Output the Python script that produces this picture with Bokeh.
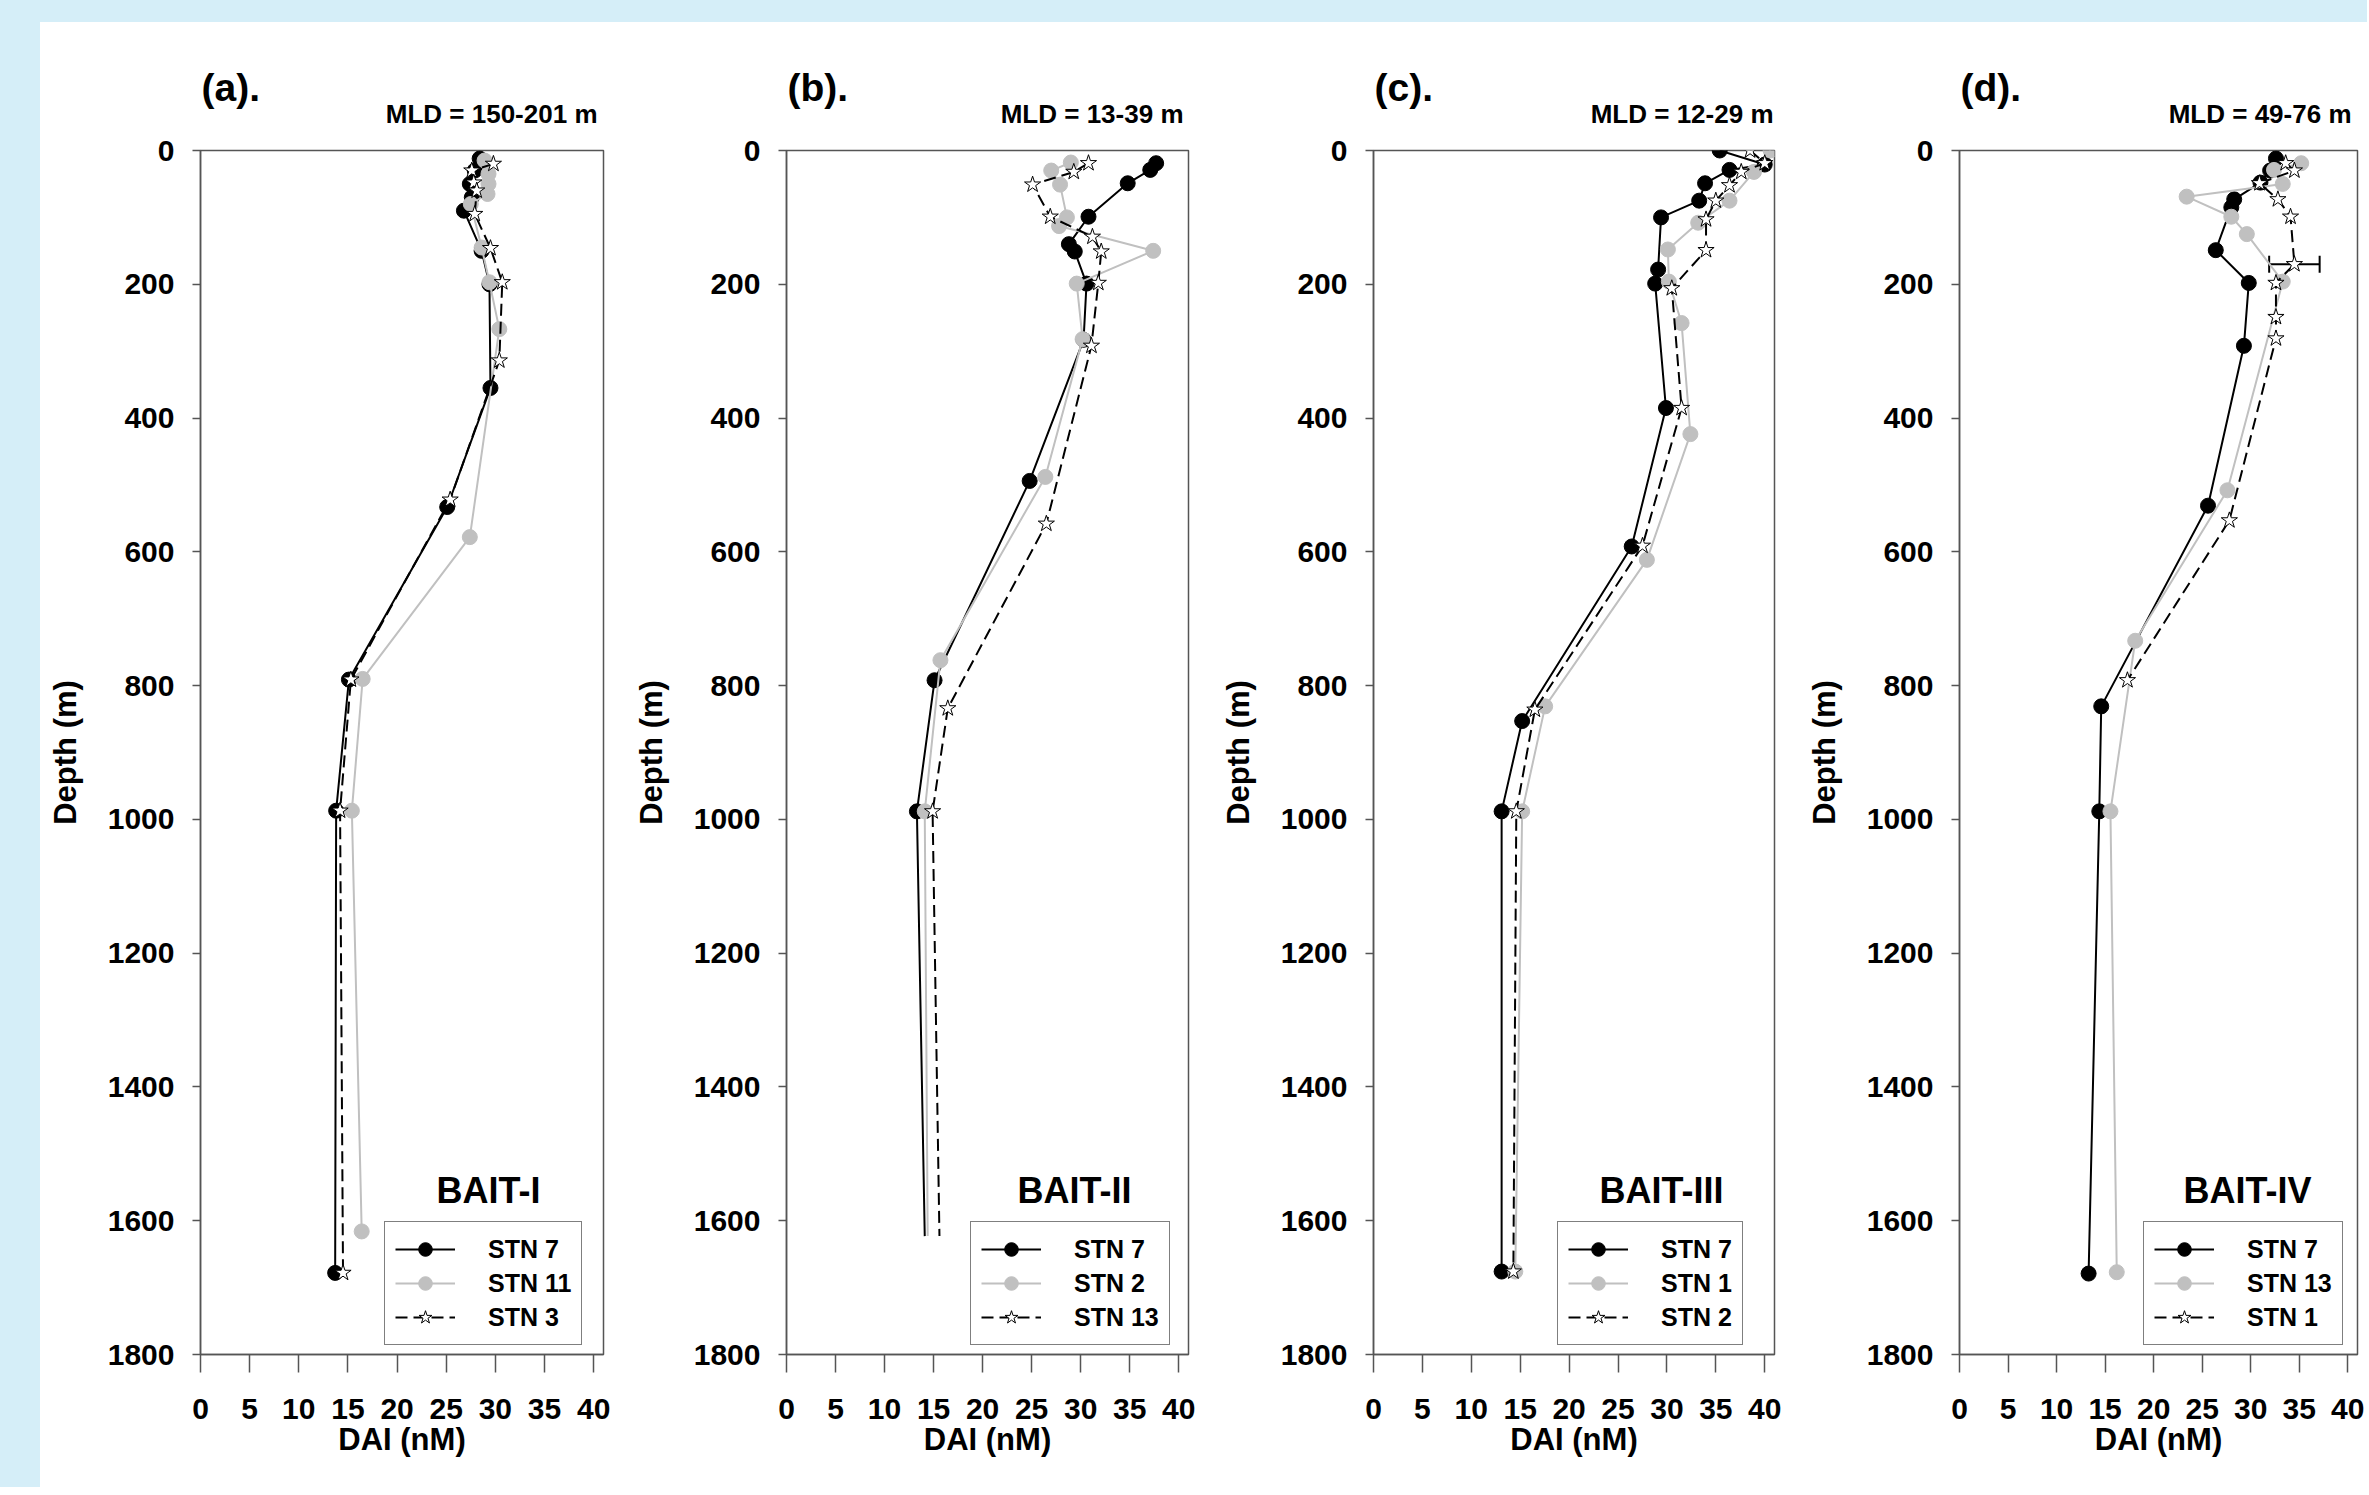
from bokeh.plotting import figure
from bokeh.models import (Range1d, FixedTicker, Legend, LegendItem, Label,
                          Whisker, ColumnDataSource, Spacer, TeeHead)
from bokeh.layouts import row, column
from bokeh.embed import file_html
from bokeh.resources import INLINE

FONT = "Liberation Sans"
BLACK = "#000000"
GRAY = "#c0c0c0"
FRAME = "#555555"
BG = "#d5eef8"

# ---------------- data ----------------
X_TICKS = [0, 5, 10, 15, 20, 25, 30, 35, 40]
Y_TICKS = [0, 200, 400, 600, 800, 1000, 1200, 1400, 1600, 1800]

# (a) BAIT-I
A_LABELS = ["STN 7", "STN 11", "STN 3"]
A_S1_DEPTH = [12, 30, 50, 70, 90, 150, 200, 355, 533, 791, 987, 1678]
A_S1_DAI = [28.4, 27.9, 27.4, 27.6, 26.8, 28.6, 29.4, 29.5, 25.1, 15.1, 13.8, 13.7]
A_S2_DEPTH = [15, 35, 50, 65, 80, 145, 197, 267, 578, 790, 987, 1616]
A_S2_DAI = [28.9, 29.3, 29.3, 29.2, 27.5, 28.6, 29.4, 30.4, 27.4, 16.5, 15.4, 16.4]
A_S3_DEPTH = [20, 30, 48, 60, 95, 146, 197, 314, 522, 791, 987, 1678]
A_S3_DAI = [29.8, 27.6, 27.8, 28.1, 27.9, 29.5, 30.7, 30.4, 25.4, 15.3, 14.2, 14.5]

# (b) BAIT-II
B_LABELS = ["STN 7", "STN 2", "STN 13"]
B_S1_DEPTH = [19, 29, 49, 99, 140, 151, 199, 283, 494, 792, 988, 1623]
B_S1_DAI = [37.7, 37.1, 34.8, 30.8, 28.8, 29.4, 30.6, 30.3, 24.8, 15.1, 13.3, 14.1]
B_S2_DEPTH = [18, 30, 51, 100, 113, 150, 199, 282, 488, 762, 988, 1623]
B_S2_DAI = [29.0, 27.0, 27.9, 28.6, 27.8, 37.4, 29.6, 30.2, 26.4, 15.7, 14.1, 14.4]
B_S3_DEPTH = [19, 32, 51, 99, 129, 151, 198, 292, 558, 834, 988, 1623]
B_S3_DAI = [30.8, 29.3, 25.1, 26.9, 31.2, 32.1, 31.8, 31.1, 26.5, 16.45, 14.9, 15.6]

# (c) BAIT-III
C_LABELS = ["STN 7", "STN 1", "STN 2"]
C_S1_DEPTH = [0, 21, 29, 49, 75, 100, 178, 199, 385, 592, 853, 988, 1676]
C_S1_DAI = [35.4, 40.0, 36.4, 33.9, 33.3, 29.4, 29.1, 28.8, 29.9, 26.4, 15.2, 13.1, 13.1]
C_S2_DEPTH = [0, 32, 75, 108, 148, 196, 258, 424, 612, 831, 988, 1676]
C_S2_DAI = [40.6, 38.9, 36.4, 33.2, 30.1, 30.2, 31.5, 32.4, 27.95, 17.55, 15.2, 14.5]
C_S3_DEPTH = [0, 19, 32, 52, 75, 103, 149, 206, 385, 591, 836, 988, 1676]
C_S3_DAI = [38.5, 40.0, 37.6, 36.4, 35.0, 34.0, 34.0, 30.5, 31.5, 27.5, 16.5, 14.6, 14.3]

# (d) BAIT-IV
D_LABELS = ["STN 7", "STN 13", "STN 1"]
D_S1_DEPTH = [12, 30, 48, 73, 85, 149, 198, 292, 531, 831, 988, 1679]
D_S1_DAI = [32.6, 32.0, 31.0, 28.3, 28.0, 26.4, 29.8, 29.3, 25.6, 14.6, 14.4, 13.3]
D_S2_DEPTH = [19, 29, 50, 69, 99, 125, 196, 508, 733, 988, 1677]
D_S2_DAI = [35.2, 32.4, 33.3, 23.4, 28.0, 29.6, 33.3, 27.6, 18.1, 15.55, 16.2]
D_S3_DEPTH = [19, 30, 49, 73, 99, 170, 198, 249, 281, 553, 792]
D_S3_DAI = [33.6, 34.5, 30.9, 32.8, 34.1, 34.5, 32.6, 32.6, 32.6, 27.8, 17.3]
D_ERR_DEPTH = [170]
D_ERR_LOW = [31.9]
D_ERR_HIGH = [37.1]

PANELS = [
    dict(tag="(a).", mld="MLD = 150-201 m", cruise="BAIT-I", labels=A_LABELS,
         series=[(A_S1_DEPTH, A_S1_DAI), (A_S2_DEPTH, A_S2_DAI), (A_S3_DEPTH, A_S3_DAI)],
         left=160, fw=403, right=27, mld_dx=-6, open_end=False, err=None),
    dict(tag="(b).", mld="MLD = 13-39 m", cruise="BAIT-II", labels=B_LABELS,
         series=[(B_S1_DEPTH, B_S1_DAI), (B_S2_DEPTH, B_S2_DAI), (B_S3_DEPTH, B_S3_DAI)],
         left=156, fw=402, right=29, mld_dx=-5, open_end=True, err=None),
    dict(tag="(c).", mld="MLD = 12-29 m", cruise="BAIT-III", labels=C_LABELS,
         series=[(C_S1_DEPTH, C_S1_DAI), (C_S2_DEPTH, C_S2_DAI), (C_S3_DEPTH, C_S3_DAI)],
         left=156, fw=401, right=29, mld_dx=-1, open_end=False, err=None),
    dict(tag="(d).", mld="MLD = 49-76 m", cruise="BAIT-IV", labels=D_LABELS,
         series=[(D_S1_DEPTH, D_S1_DAI), (D_S2_DEPTH, D_S2_DAI), (D_S3_DEPTH, D_S3_DAI)],
         left=156, fw=398, right=10, mld_dx=-6, open_end=False,
         err=(D_ERR_DEPTH, D_ERR_LOW, D_ERR_HIGH)),
]

HEAD_H = 108
TOP_B = 20
FRAME_H = 1204
BOT_B = 133
STYLES = [
    dict(color=BLACK, dash="solid", marker="circle", fill=BLACK, mline=BLACK, size=15),
    dict(color=GRAY, dash="solid", marker="circle", fill=GRAY, mline=GRAY, size=15),
    dict(color=BLACK, dash="12 6", marker="star", fill="white", mline=BLACK, size=17),
]


def header(pn):
    W = pn["left"] + pn["fw"] + pn["right"]
    h = figure(width=W, height=HEAD_H, min_border=0, min_border_left=0,
               min_border_right=0, min_border_top=0, min_border_bottom=0,
               x_range=Range1d(0, 1), y_range=Range1d(0, 1),
               x_axis_location=None, y_axis_location=None,
               output_backend="svg", toolbar_location=None, title=None)
    h.outline_line_color = None
    h.background_fill_color = "white"
    h.border_fill_color = "white"
    h.grid.visible = False
    h.add_layout(Label(x=1, y=43, x_units="screen", y_units="screen",
                       text=pn["tag"], text_font=FONT, text_font_style="bold",
                       text_font_size="39px", text_align="left",
                       text_baseline="alphabetic", text_color="black"))
    h.add_layout(Label(x=pn["fw"] + pn["mld_dx"], y=17, x_units="screen",
                       y_units="screen", text=pn["mld"], text_font=FONT,
                       text_font_style="bold", text_font_size="26px", text_align="right",
                       text_baseline="alphabetic", text_color="black"))
    return h


def build(pn):
    p = figure(frame_width=pn["fw"], frame_height=FRAME_H,
               min_border_left=pn["left"], min_border_right=pn["right"],
               min_border_top=TOP_B, min_border_bottom=BOT_B,
               x_range=Range1d(0, 41), y_range=Range1d(1800, 0),
               output_backend="svg", toolbar_location=None, title=None)
    p.background_fill_color = "white"
    p.border_fill_color = "white"
    p.outline_line_color = FRAME
    p.outline_line_width = 1.5
    p.grid.visible = False

    p.xaxis.ticker = FixedTicker(ticks=X_TICKS)
    p.yaxis.ticker = FixedTicker(ticks=Y_TICKS)
    p.xaxis.axis_label = "DAI (nM)"
    p.yaxis.axis_label = "Depth (m)"
    for ax in (p.xaxis[0], p.yaxis[0]):
        ax.major_label_text_font = FONT
        ax.major_label_text_font_style = "bold"
        ax.major_label_text_font_size = "30px"
        ax.major_label_text_color = "black"
        ax.axis_label_text_font = FONT
        ax.axis_label_text_font_style = "bold"
        ax.axis_label_text_font_size = "31px"
        ax.axis_label_text_color = "black"
        ax.minor_tick_line_color = None
        ax.major_tick_in = 0
        ax.axis_line_color = FRAME
        ax.axis_line_width = 1.5
        ax.major_tick_line_color = FRAME
        ax.major_tick_line_width = 1.5
    p.xaxis.major_tick_out = 18
    p.xaxis.major_label_standoff = 26
    p.xaxis.axis_label_standoff = 0
    p.yaxis.major_tick_out = 8
    p.yaxis.major_label_standoff = 18
    p.yaxis.axis_label_standoff = 22

    items = []
    for (d, v), st, lab in zip(pn["series"], STYLES, pn["labels"]):
        lr = p.line(v, d, line_color=st["color"], line_width=2, line_dash=st["dash"])
        n = len(d) - 1 if pn["open_end"] else len(d)
        sr = p.scatter(v[:n], d[:n], marker=st["marker"], size=st["size"],
                       fill_color=st["fill"], line_color=st["mline"], line_width=1)
        items.append(LegendItem(label=lab, renderers=[lr, sr]))

    if pn["err"] is not None:
        ed, el, eh = pn["err"]
        src = ColumnDataSource(dict(base=ed, lower=el, upper=eh))
        p.add_layout(Whisker(source=src, base="base", lower="lower", upper="upper",
                             dimension="width", line_color="black", line_width=2,
                             upper_head=TeeHead(size=17, line_width=2, line_color="black"),
                             lower_head=TeeHead(size=17, line_width=2, line_color="black")))

    leg = Legend(items=items, location=(184, 9), glyph_width=60, glyph_height=34,
                 label_height=34, spacing=0, padding=10, label_standoff=33,
                 label_text_font=FONT, label_text_font_style="bold",
                 label_text_font_size="25px", label_text_color="black",
                 border_line_color="black", border_line_width=1,
                 background_fill_color="white", background_fill_alpha=1.0, margin=0)
    p.add_layout(leg)

    p.add_layout(Label(x=288, y=164, x_units="screen", y_units="screen",
                       text=pn["cruise"], text_font=FONT, text_font_style="bold",
                       text_font_size="36px", text_align="center",
                       text_baseline="alphabetic", text_color="black"))
    return p


cols = [column(header(pn), build(pn), spacing=0) for pn in PANELS]
total_w = sum(pn["left"] + pn["fw"] + pn["right"] for pn in PANELS)
fig_h = HEAD_H + TOP_B + FRAME_H + BOT_B

top = Spacer(width=40 + total_w, height=22, styles={"background-color": BG})
side = Spacer(width=40, height=fig_h, styles={"background-color": BG})
layout = column(top, row(side, *cols, spacing=0), spacing=0)

open("out.html", "w").write(file_html(layout, INLINE))
